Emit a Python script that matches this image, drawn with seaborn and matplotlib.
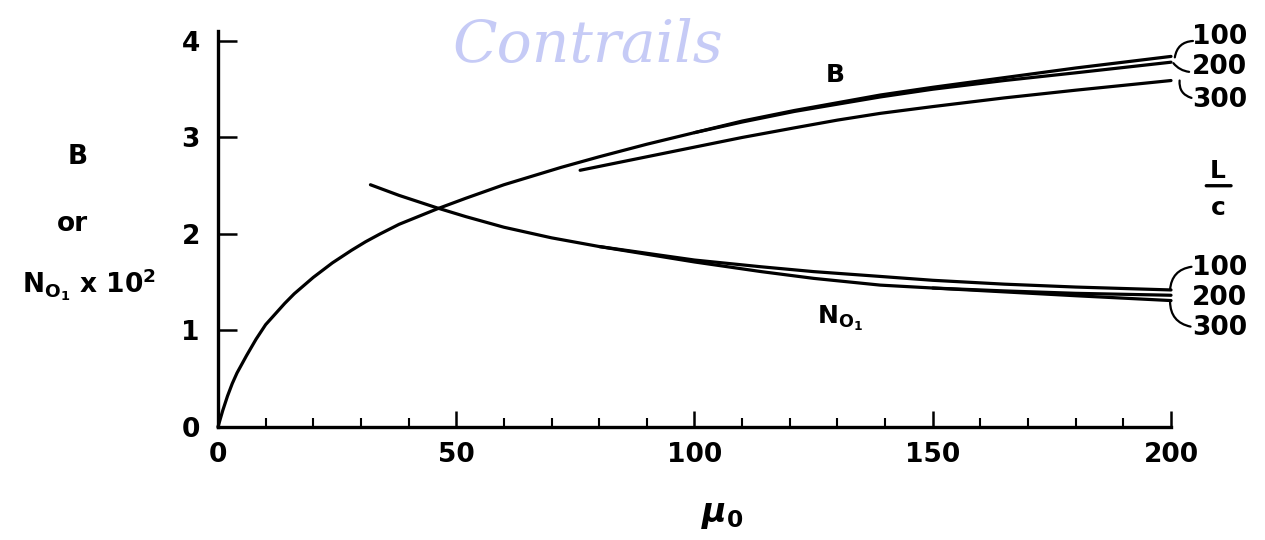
import numpy as np
import pandas as pd
import matplotlib
matplotlib.use("Agg")
import matplotlib.pyplot as plt
from matplotlib.ticker import NullLocator
import seaborn as sns

# ---- data ----
mu_B100 = [0, 1, 2, 3, 4, 5, 6, 8, 10, 12, 14, 16, 20, 24, 28, 31, 34, 38, 42, 46,
           52, 60, 66, 72, 80, 90, 100, 110, 121, 130, 139, 150, 165, 180, 200]
B100 = [0.0, 0.17, 0.32, 0.45, 0.56, 0.65, 0.74, 0.91, 1.06, 1.17, 1.28, 1.38,
        1.55, 1.70, 1.83, 1.92, 2.00, 2.10, 2.18, 2.26, 2.37, 2.51, 2.60, 2.69,
        2.80, 2.93, 3.05, 3.17, 3.28, 3.36, 3.44, 3.52, 3.62, 3.72, 3.84]
mu_B200 = [100, 110, 121, 130, 139, 150, 165, 180, 200]
B200 = [3.05, 3.16, 3.27, 3.345, 3.42, 3.50, 3.59, 3.67, 3.78]
mu_B300 = [76, 80, 90, 100, 110, 121, 130, 139, 150, 165, 180, 200]
B300 = [2.66, 2.70, 2.80, 2.90, 3.00, 3.10, 3.18, 3.25, 3.32, 3.41, 3.49, 3.59]

mu_N100 = [32, 38, 46, 52, 60, 70, 80, 90, 100, 114, 125, 139, 150, 165, 180, 200]
N100 = [2.51, 2.40, 2.27, 2.18, 2.07, 1.96, 1.87, 1.80, 1.73, 1.66, 1.61, 1.56,
        1.52, 1.48, 1.45, 1.42]
mu_N200 = [80, 90, 100, 114, 125, 139, 150, 165, 180, 200]
N200 = [1.87, 1.79, 1.71, 1.61, 1.54, 1.47, 1.44, 1.41, 1.385, 1.365]
mu_N300 = [150, 165, 180, 200]
N300 = [1.44, 1.40, 1.36, 1.31]

x_ticks = [0, 50, 100, 150, 200]
y_ticks = [0, 1, 2, 3, 4]
lc_labels = ["100", "200", "300"]

series = {
    "B, L/c=100": (mu_B100, B100),
    "B, L/c=200": (mu_B200, B200),
    "B, L/c=300": (mu_B300, B300),
    "N, L/c=100": (mu_N100, N100),
    "N, L/c=200": (mu_N200, N200),
    "N, L/c=300": (mu_N300, N300),
}
df = pd.concat([pd.DataFrame({"mu0": xs, "value": ys, "series": name})
                for name, (xs, ys) in series.items()], ignore_index=True)

# ---- style ----
sns.set_theme(style="ticks")
plt.rcParams["font.family"] = ["DejaVu Sans"]
plt.rcParams["font.weight"] = "bold"
plt.rcParams["axes.labelweight"] = "bold"
plt.rcParams["text.color"] = "black"
plt.rcParams["axes.labelcolor"] = "black"
plt.rcParams["mathtext.fontset"] = "custom"
plt.rcParams["mathtext.rm"] = "DejaVu Sans:bold"
plt.rcParams["mathtext.it"] = "DejaVu Sans:italic:bold"
plt.rcParams["mathtext.bf"] = "DejaVu Sans:bold"
plt.rcParams["mathtext.default"] = "rm"

fig = plt.figure(figsize=(12.65, 5.4), dpi=100)
ax = fig.add_axes([0.1723, 0.2093, 0.7534, 0.7327])

# watermark
fig.text(588 / 1265, 1 - 46 / 540, "Contrails", fontsize=42, color="#c6cbf6",
         style="italic", weight="normal", family="DejaVu Serif",
         ha="center", va="center", zorder=0)

sns.lineplot(data=df, x="mu0", y="value", units="series", estimator=None,
             sort=False, color="black", lw=2.3, ax=ax, legend=False, clip_on=False)

ax.set_xlim(0, 200)
ax.set_ylim(0, 4.1)
ax.set_xticks(x_ticks)
ax.set_xticks(np.arange(0, 201, 10), minor=True)
ax.set_yticks(y_ticks)
ax.yaxis.set_minor_locator(NullLocator())
ax.tick_params(axis="x", which="major", direction="in", length=11.5, width=1.8,
               pad=11, labelsize=19, color="black", labelcolor="black")
ax.tick_params(axis="x", which="minor", direction="in", length=6.5, width=1.5,
               color="black")
ax.tick_params(axis="y", which="major", direction="in", length=13.5, width=1.8,
               pad=13, labelsize=19, color="black", labelcolor="black")
sns.despine(ax=ax)
for s in ("left", "bottom"):
    ax.spines[s].set_linewidth(2.4)
    ax.spines[s].set_color("black")
ax.set_facecolor("white")
fig.patch.set_facecolor("white")

ax.set_xlabel(r"$\mathit{\mu}_{0}$", fontsize=24, va="center")
ax.xaxis.set_label_coords(0.529, -0.222)

# y-axis label: three stacked lines
ax.set_ylabel("B", fontsize=19, rotation=0, ha="center", va="center")
ax.yaxis.set_label_coords(-0.147, (427 - 157) / 395.7)
ax.text(-0.153, (427 - 224) / 395.7, "or", transform=ax.transAxes, fontsize=19,
        ha="center", va="center")
ax.text(-0.135, (427 - 285) / 395.7, "$N_{O_1}$ x 10$^2$", transform=ax.transAxes,
        fontsize=19, ha="center", va="center")

# curve labels
ax.text(129.5, 3.65, "B", fontsize=18, ha="center", va="center")
ax.text(130.5, 1.13, "$N_{O_1}$", fontsize=18, ha="center", va="center")

# L/c labels at the right
for lab, yv in zip(lc_labels, [4.04, 3.73, 3.39]):
    ax.text(204.4, yv, lab, fontsize=19, ha="left", va="center")
for lab, yv in zip(lc_labels, [1.65, 1.34, 1.03]):
    ax.text(204.4, yv, lab, fontsize=19, ha="left", va="center")
ax.text(209.9, 2.65, "L", fontsize=18, ha="center", va="center")
ax.text(209.9, 2.27, "c", fontsize=18, ha="center", va="center")
ax.annotate("", xy=(207.4, 2.50), xytext=(212.6, 2.50), annotation_clip=False,
            arrowprops=dict(arrowstyle="-", lw=2.4, color="black",
                            shrinkA=0, shrinkB=0))

# leader arcs
leaders = [
    ((200.8, 3.83), (204.6, 4.00), 0.4),
    ((200.5, 3.77), (203.8, 3.68), -0.2),
    ((201.8, 3.59), (204.3, 3.41), -0.4),
    ((199.8, 1.42), (204.3, 1.66), 0.4),
    ((199.8, 1.30), (204.1, 1.04), -0.4),
]
for end, start, rad in leaders:
    ax.annotate("", xy=end, xytext=start, annotation_clip=False,
                arrowprops=dict(arrowstyle="-", lw=1.6, color="black",
                                shrinkA=0, shrinkB=0,
                                connectionstyle=f"arc3,rad={rad}"))

fig.savefig("out.png", dpi=100, facecolor="white")
